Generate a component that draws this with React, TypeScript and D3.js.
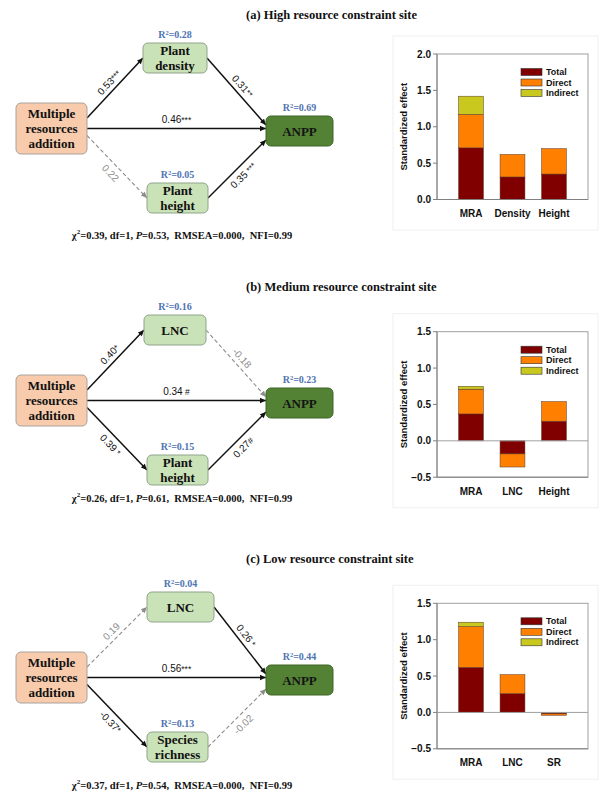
import React from "react";
import * as d3 from "d3";

// ---------- DATA ----------
const panelTitles = [
  "(a) High resource constraint site",
  "(b) Medium resource constraint site",
  "(c) Low resource constraint site",
];
const sourceLabel = ["Multiple", "resources", "addition"];
const targetLabel = "ANPP";
const mediatorTopLabels = [["Plant", "density"], ["LNC"], ["LNC"]];
const mediatorBottomLabels = [["Plant", "height"], ["Plant", "height"], ["Species", "richness"]];
const r2Top = ["0.28", "0.16", "0.04"];
const r2Bottom = ["0.05", "0.15", "0.13"];
const r2Target = ["0.69", "0.23", "0.44"];

// path order: source→top, top→target, source→target, source→bottom, bottom→target
const pathCoefA = ["0.53", "0.31", "0.46", "0.22", "0.35"];
const pathSigA = ["***", "**", "***", "", " ***"];
const pathCoefB = ["0.40", "-0.18", "0.34", "0.39", "0.27"];
const pathSigB = ["*", "", " #", " *", "#"];
const pathCoefC = ["0.19", "0.26", "0.56", "-0.37", "-0.02"];
const pathSigC = ["", " *", "***", "*", ""];

const chi2 = ["0.39", "0.26", "0.37"];
const dfValues = ["1", "1", "1"];
const pValues = ["0.53", "0.61", "0.54"];
const rmsea = ["0.000", "0.000", "0.000"];
const nfi = ["0.99", "0.99", "0.99"];

const effectKeys = ["Total", "Direct", "Indirect"];
const categoriesA = ["MRA", "Density", "Height"];
const totalA = [0.71, 0.31, 0.35];
const directA = [0.46, 0.31, 0.35];
const indirectA = [0.25, 0, 0];
const categoriesB = ["MRA", "LNC", "Height"];
const totalB = [0.37, -0.18, 0.27];
const directB = [0.34, -0.18, 0.27];
const indirectB = [0.04, 0, 0];
const categoriesC = ["MRA", "LNC", "SR"];
const totalC = [0.62, 0.26, -0.02];
const directC = [0.56, 0.26, -0.02];
const indirectC = [0.06, 0, 0];
const yTicksA = [0, 0.5, 1.0, 1.5, 2.0];
const yTicksBC = [-0.5, 0, 0.5, 1.0, 1.5];

const yAxisTitle = "Standardized effect";

// ---------- STYLE / LAYOUT ----------
const SERIF = "'Times New Roman', 'Liberation Serif', serif";
const SANS = "Arial, 'Liberation Sans', sans-serif";
const effectColors = ["#800000", "#FF8000", "#C8C81E"];
const R2_COLOR = "#4F73B3";

const diagramDy = [0, 272, 549];
const titleY = [15, 287, 559];
const fitY = [235, 498, 785];
const barTop = [54, 331.7, 603.3];
const BAR_H = 145.5;
const topBoxX = [143, 144, 147];
const topBoxW = [64, 62, 67];

const allCoefs = [pathCoefA, pathCoefB, pathCoefC];
const allSigs = [pathSigA, pathSigB, pathSigC];
const allCats = [categoriesA, categoriesB, categoriesC];
const allTotals = [totalA, totalB, totalC];
const allDirects = [directA, directB, directC];
const allIndirects = [indirectA, indirectB, indirectC];
const allTicks = [yTicksA, yTicksBC, yTicksBC];

type Box = { x: number; y: number; w: number; h: number };

function BoxNode({ b, fill, stroke, lines, size, color }: { b: Box; fill: string; stroke: string; lines: string[]; size: number; color: string }) {
  const cy = b.y + b.h / 2;
  const lh = size * 1.18;
  const start = cy - ((lines.length - 1) * lh) / 2;
  return (
    <g>
      <rect x={b.x} y={b.y} width={b.w} height={b.h} rx={5} ry={5} fill={fill} stroke={stroke} strokeWidth={1} />
      {lines.map((l, k) => (
        <text key={k} x={b.x + b.w / 2} y={start + k * lh} textAnchor="middle" dominantBaseline="central"
          fontFamily={SERIF} fontWeight="bold" fontSize={size} fill={color}>{l}</text>
      ))}
    </g>
  );
}

function R2({ b, v }: { b: Box; v: string }) {
  return (
    <text x={b.x + b.w / 2} y={b.y - 5} textAnchor="middle" fontFamily={SERIF} fontWeight="bold" fontSize={10} fill={R2_COLOR}>
      R<tspan fontSize={6.5} dy={-3.5}>2</tspan><tspan dy={3.5}>={v}</tspan>
    </text>
  );
}

function PathArrow({ x1, y1, x2, y2, coef, sig, side, dist }: { x1: number; y1: number; x2: number; y2: number; coef: string; sig: string; side: number; dist: number }) {
  const dashed = sig === "";
  const col = dashed ? "#8C8C8C" : "#111";
  const ang = Math.atan2(y2 - y1, x2 - x1);
  const deg = (ang * 180) / Math.PI;
  const nx = Math.sin(ang), ny = -Math.cos(ang);
  const mx = (x1 + x2) / 2 + side * nx * dist;
  const my = (y1 + y2) / 2 + side * ny * dist;
  return (
    <g>
      <line x1={x1} y1={y1} x2={x2} y2={y2} stroke={col} strokeWidth={dashed ? 1.1 : 1.5}
        strokeDasharray={dashed ? "4,2.5" : undefined} markerEnd={`url(#${dashed ? "ahGray" : "ahBlack"})`} />
      <text transform={`translate(${mx},${my}) rotate(${deg})`} textAnchor="middle" dominantBaseline="central"
        fontFamily={SANS} fontSize={10} fill={dashed ? "#8C8C8C" : "#111"} style={{ whiteSpace: "pre" }}>
        {coef}<tspan fontSize={8.5}>{sig}</tspan>
      </text>
    </g>
  );
}

function Diagram({ i }: { i: number }) {
  const dy = diagramDy[i];
  const src: Box = { x: 16, y: 103 + dy, w: 71, h: 51 };
  const top: Box = { x: topBoxX[i], y: 43 + dy, w: topBoxW[i], h: 30 };
  const bot: Box = { x: 147, y: 183 + dy, w: 61, h: 30 };
  const tgt: Box = { x: 266, y: 116 + dy, w: 67, h: 30 };
  const coefs = allCoefs[i], sigs = allSigs[i];
  const srcCy = src.y + src.h / 2;
  const tgtCy = tgt.y + tgt.h / 2;
  const topCy = top.y + top.h / 2;
  const botCy = bot.y + bot.h / 2;
  const sx = src.x + src.w;
  return (
    <g>
      <text x={246} y={titleY[i]} dominantBaseline="central" fontFamily={SERIF} fontWeight="bold" fontSize={12.5} fill="#111">{panelTitles[i]}</text>
      <PathArrow x1={sx} y1={src.y + 15} x2={top.x} y2={topCy} coef={coefs[0]} sig={sigs[0]} side={1} dist={8} />
      <PathArrow x1={top.x + top.w} y1={topCy} x2={tgt.x} y2={tgtCy - 6} coef={coefs[1]} sig={sigs[1]} side={1} dist={8} />
      <PathArrow x1={sx} y1={srcCy} x2={tgt.x} y2={srcCy} coef={coefs[2]} sig={sigs[2]} side={1} dist={9} />
      <PathArrow x1={sx} y1={srcCy + 7} x2={bot.x} y2={botCy} coef={coefs[3]} sig={sigs[3]} side={-1} dist={9} />
      <PathArrow x1={bot.x + bot.w} y1={botCy} x2={tgt.x} y2={tgtCy + 9} coef={coefs[4]} sig={sigs[4]} side={-1} dist={9} />
      <BoxNode b={src} fill="#F8CBAD" stroke="#A8A29C" lines={sourceLabel} size={13} color="#111" />
      <BoxNode b={top} fill="#C9E2B8" stroke="#8FA58A" lines={mediatorTopLabels[i]} size={13} color="#111" />
      <BoxNode b={bot} fill="#C9E2B8" stroke="#8FA58A" lines={mediatorBottomLabels[i]} size={13} color="#111" />
      <BoxNode b={tgt} fill="#548235" stroke="#3E6427" lines={[targetLabel]} size={13} color="#141414" />
      <R2 b={top} v={r2Top[i]} />
      <R2 b={bot} v={r2Bottom[i]} />
      <R2 b={tgt} v={r2Target[i]} />
      <text x={182} y={fitY[i]} textAnchor="middle" dominantBaseline="central" fontFamily={SERIF} fontWeight="bold" fontSize={10.5} fill="#111" style={{ whiteSpace: "pre" }}>
        χ<tspan fontSize={7} dy={-3}>2</tspan><tspan dy={3}>{`=${chi2[i]}, df=${dfValues[i]}, `}</tspan><tspan fontStyle="italic">P</tspan>{`=${pValues[i]},  RMSEA=${rmsea[i]},  NFI=${nfi[i]}`}
      </text>
    </g>
  );
}

function Bars({ i }: { i: number }) {
  const x0 = 437, x1 = 588;
  const top = barTop[i];
  const ticks = allTicks[i];
  const cats = allCats[i];
  const y = d3.scaleLinear().domain([ticks[0], ticks[ticks.length - 1]]).range([top + BAR_H, top]);
  const x = d3.scaleBand<string>().domain(cats).range([x0, x1]).paddingInner(0.4).paddingOuter(0.52);
  const rows = cats.map((c, j) => ({ cat: c, Total: allTotals[i][j], Direct: allDirects[i][j], Indirect: allIndirects[i][j] }));
  const series = d3.stack<any>().keys(effectKeys).offset(d3.stackOffsetDiverging)(rows);
  const midY = top + BAR_H / 2;
  return (
    <g>
      <rect x={393} y={top - 18} width={205} height={194} fill="none" stroke="#F0F0F0" strokeWidth={1} />
      {series.map((s, k) => (
        <g key={k}>
          {s.map((d, j) => {
            const a = y(d[0]), b = y(d[1]);
            const h = Math.abs(a - b);
            if (h < 0.01) return null;
            return <rect key={j} x={x(cats[j])!} y={Math.min(a, b)} width={x.bandwidth()} height={h}
              fill={effectColors[k]} stroke="#5A3A2A" strokeWidth={0.5} />;
          })}
        </g>
      ))}
      <rect x={x0} y={top} width={x1 - x0} height={BAR_H} fill="none" stroke="#A0A0A0" strokeWidth={1} />
      {ticks[0] < 0 && <line x1={x0} x2={x1} y1={y(0)} y2={y(0)} stroke="#A0A0A0" strokeWidth={1} />}
      <line x1={x0} x2={x0} y1={top} y2={top + BAR_H} stroke="#808080" strokeWidth={1} />
      <line x1={x0} x2={x1} y1={top + BAR_H} y2={top + BAR_H} stroke="#808080" strokeWidth={1} />
      {ticks.map((t, k) => (
        <g key={k}>
          <line x1={x0 - 4} x2={x0} y1={y(t)} y2={y(t)} stroke="#808080" strokeWidth={1} />
          <text x={x0 - 6} y={y(t)} textAnchor="end" dominantBaseline="central" fontFamily={SANS} fontWeight="bold" fontSize={10} fill="#111">{d3.format(".1f")(t)}</text>
        </g>
      ))}
      {cats.map((c) => (
        <text key={c} x={x(c)! + x.bandwidth() / 2} y={top + BAR_H + 14} textAnchor="middle" dominantBaseline="central"
          fontFamily={SANS} fontWeight="bold" fontSize={10} fill="#111">{c}</text>
      ))}
      <text transform={`translate(403,${midY}) rotate(-90)`} textAnchor="middle" dominantBaseline="central"
        fontFamily={SANS} fontWeight="bold" fontSize={9.5} fill="#111">{yAxisTitle}</text>
      {effectKeys.map((k, j) => (
        <g key={k}>
          <rect x={521} y={top + 18 + j * 10.5 - 3.5} width={21} height={7} fill={effectColors[j]} stroke="#333" strokeWidth={0.6} />
          <text x={546} y={top + 18 + j * 10.5} dominantBaseline="central" fontFamily={SANS} fontWeight="bold" fontSize={9} fill="#111">{k}</text>
        </g>
      ))}
    </g>
  );
}

export default function App() {
  return (
    <svg width={600} height={800} viewBox="0 0 600 800" style={{ position: "absolute", left: 0, top: 0, background: "#fff" }}>
      <defs>
        <marker id="ahBlack" viewBox="0 0 10 10" refX={10} refY={5} markerWidth={7} markerHeight={6} markerUnits="userSpaceOnUse" orient="auto">
          <path d="M0,0.5 L10,5 L0,9.5 z" fill="#111" />
        </marker>
        <marker id="ahGray" viewBox="0 0 10 10" refX={10} refY={5} markerWidth={7} markerHeight={6} markerUnits="userSpaceOnUse" orient="auto">
          <path d="M0,0.5 L10,5 L0,9.5 z" fill="#8C8C8C" />
        </marker>
      </defs>
      <rect x={0} y={0} width={600} height={800} fill="#fff" />
      {[0, 1, 2].map((i) => (
        <g key={i}>
          <Diagram i={i} />
          <Bars i={i} />
        </g>
      ))}
    </svg>
  );
}
